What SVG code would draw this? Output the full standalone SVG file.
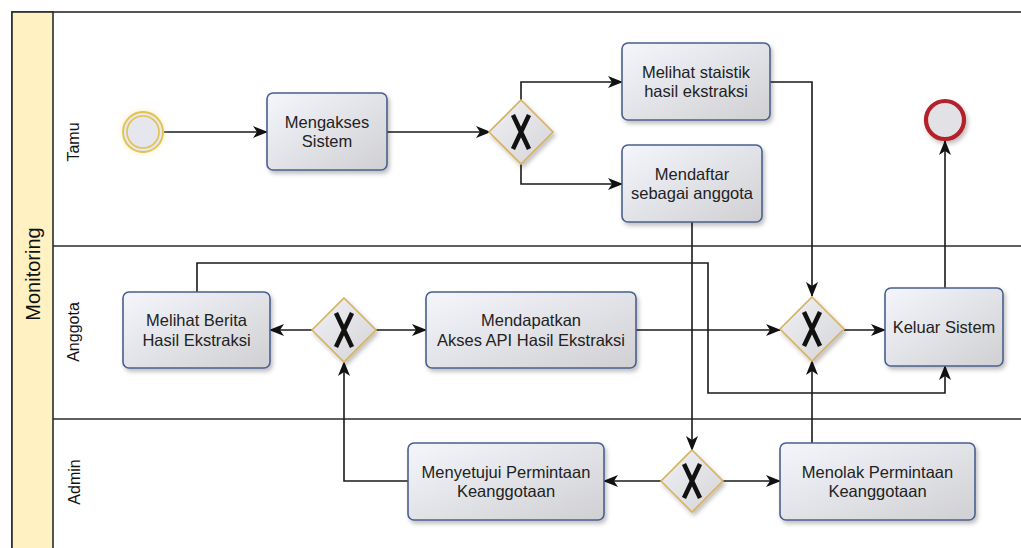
<svg xmlns="http://www.w3.org/2000/svg" width="1021" height="548" viewBox="0 0 1021 548">
  <defs>
    <linearGradient id="taskFill" x1="0" y1="0" x2="1" y2="1">
      <stop offset="0" stop-color="#f4f6fc"/>
      <stop offset="1" stop-color="#d0d0d3"/>
    </linearGradient>
    <linearGradient id="gwFill" x1="0" y1="0" x2="1" y2="1">
      <stop offset="0" stop-color="#f0f1f6"/>
      <stop offset="1" stop-color="#d4d4d8"/>
    </linearGradient>
    <filter id="shadow" x="-20%" y="-20%" width="140%" height="150%">
      <feDropShadow dx="2" dy="3" stdDeviation="2" flood-color="#000" flood-opacity="0.25"/>
    </filter>
    <filter id="glow" x="-50%" y="-50%" width="200%" height="200%">
      <feDropShadow dx="0" dy="0" stdDeviation="2.5" flood-color="#f2d96a" flood-opacity="0.6"/>
    </filter>
    <marker id="arrow" markerUnits="userSpaceOnUse" markerWidth="16" markerHeight="12" refX="14" refY="6" orient="auto">
      <path d="M0,0 L15,6 L0,12 L4,6 Z" fill="#111"/>
    </marker>
    <style>
      .pool { fill: none; stroke: #2b2b2b; stroke-width: 1.6; }
      .band { fill: #fff1c2; stroke: #2b2b2b; stroke-width: 1.6; }
      .lane { stroke: #2b2b2b; stroke-width: 1.6; }
      .laneLabel { font-family: "Liberation Sans", Arial, sans-serif; font-size: 16px; fill: #111; text-anchor: middle; }
      .poolLabel { font-family: "Liberation Sans", Arial, sans-serif; font-size: 20px; fill: #111; text-anchor: middle; }
      .task rect { fill: url(#taskFill); stroke: #4a5f8e; stroke-width: 1.6; filter: url(#shadow); }
      .task text { font-family: "Liberation Sans", Arial, sans-serif; font-size: 16.5px; fill: #222; text-anchor: middle; }
      .gw polygon { fill: url(#gwFill); stroke: #d6b25c; stroke-width: 1.6; filter: url(#shadow); }
      .gw path { fill: none; stroke: #111; stroke-width: 4.5; stroke-linecap: butt; }
      .flow { fill: none; stroke: #1a1a1a; stroke-width: 1.6; marker-end: url(#arrow); }
    </style>
  </defs>

  <rect width="1021" height="548" fill="#ffffff"/>

  <!-- Pool with its lanes -->
  <g id="pool">
    <rect class="pool" x="12" y="12" width="1040" height="560"/>
    <rect class="band" x="12" y="12" width="41" height="560"/>
    <line class="lane" x1="53" y1="246" x2="1030" y2="246"/>
    <line class="lane" x1="53" y1="419" x2="1030" y2="419"/>
    <text class="poolLabel" transform="translate(40,274) rotate(-90)">Monitoring</text>
    <text class="laneLabel" transform="translate(79,142) rotate(-90)">Tamu</text>
    <text class="laneLabel" transform="translate(79,332) rotate(-90)">Anggota</text>
    <text class="laneLabel" transform="translate(80,482) rotate(-90)">Admin</text>
  </g>

  <!-- Sequence flows -->
  <g id="connectors">
    <path class="flow" d="M164,132 L267,132"/>
    <path class="flow" d="M387,132 L490,132"/>
    <path class="flow" d="M521,100 L521,82 L622,82"/>
    <path class="flow" d="M521,163 L521,184 L622,184"/>
    <path class="flow" d="M770,82 L812,82 L812,296"/>
    <path class="flow" d="M692,222 L692,450"/>
    <path class="flow" d="M661,481 L604,481"/>
    <path class="flow" d="M723,481 L780,481"/>
    <path class="flow" d="M812,443 L812,361"/>
    <path class="flow" d="M408,481 L344,481 L344,362"/>
    <path class="flow" d="M312,330 L270,330"/>
    <path class="flow" d="M376,330 L426,330"/>
    <path class="flow" d="M636,330 L780,330"/>
    <path class="flow" d="M844,330 L885,330"/>
    <path class="flow" d="M197,292 L197,263 L708,263 L708,393 L945,393 L945,366"/>
    <path class="flow" d="M945,288 L945,141"/>
  </g>

  <!-- Events -->
  <g id="start">
    <circle cx="143" cy="132" r="20" fill="#e6e6ef" stroke="#e2c24c" stroke-width="1.8" filter="url(#glow)"/>
    <circle cx="143" cy="132" r="16" fill="none" stroke="#e2c24c" stroke-width="1.6"/>
  </g>
  <g id="end">
    <circle cx="945" cy="120" r="19" fill="#e2e2e6" stroke="#b3202c" stroke-width="4.2" filter="url(#shadow)"/>
  </g>

  <!-- Tasks -->
  <g id="mengakses" class="task">
    <rect x="267" y="93" width="120" height="77" rx="6"/>
    <text x="327" y="127.5">Mengakses</text>
    <text x="327" y="147">Sistem</text>
  </g>
  <g id="statistik" class="task">
    <rect x="622" y="43" width="148" height="77" rx="6"/>
    <text x="696" y="77.5">Melihat staistik</text>
    <text x="696" y="97">hasil ekstraksi</text>
  </g>
  <g id="mendaftar" class="task">
    <rect x="622" y="145" width="140" height="77" rx="6"/>
    <text x="692" y="179.5">Mendaftar</text>
    <text x="692" y="199">sebagai anggota</text>
  </g>
  <g id="berita" class="task">
    <rect x="123" y="292" width="147" height="76" rx="6"/>
    <text x="196.5" y="326">Melihat Berita</text>
    <text x="196.5" y="345.5">Hasil Ekstraksi</text>
  </g>
  <g id="api" class="task">
    <rect x="426" y="292" width="210" height="76" rx="6"/>
    <text x="531" y="326">Mendapatkan</text>
    <text x="531" y="345.5">Akses API Hasil Ekstraksi</text>
  </g>
  <g id="keluar" class="task">
    <rect x="885" y="288" width="118" height="78" rx="6"/>
    <text x="944" y="332.5">Keluar Sistem</text>
  </g>
  <g id="menyetujui" class="task">
    <rect x="408" y="443" width="196" height="77" rx="6"/>
    <text x="506" y="477.5">Menyetujui Permintaan</text>
    <text x="506" y="497">Keanggotaan</text>
  </g>
  <g id="menolak" class="task">
    <rect x="780" y="443" width="195" height="77" rx="6"/>
    <text x="877.5" y="477.5">Menolak Permintaan</text>
    <text x="877.5" y="497">Keanggotaan</text>
  </g>

  <!-- Exclusive gateways -->
  <g id="gw-tamu" class="gw" transform="translate(521,132)">
    <polygon points="0,-32 32,0 0,32 -32,0"/>
    <path d="M-8,-17 L8,17 M8,-17 L-8,17"/>
  </g>
  <g id="gw-anggota-kiri" class="gw" transform="translate(344,330)">
    <polygon points="0,-32 32,0 0,32 -32,0"/>
    <path d="M-8,-17 L8,17 M8,-17 L-8,17"/>
  </g>
  <g id="gw-anggota-kanan" class="gw" transform="translate(812,329)">
    <polygon points="0,-32 32,0 0,32 -32,0"/>
    <path d="M-8,-17 L8,17 M8,-17 L-8,17"/>
  </g>
  <g id="gw-admin" class="gw" transform="translate(692,481)">
    <polygon points="0,-31 31,0 0,31 -31,0"/>
    <path d="M-8,-17 L8,17 M8,-17 L-8,17"/>
  </g>
</svg>
